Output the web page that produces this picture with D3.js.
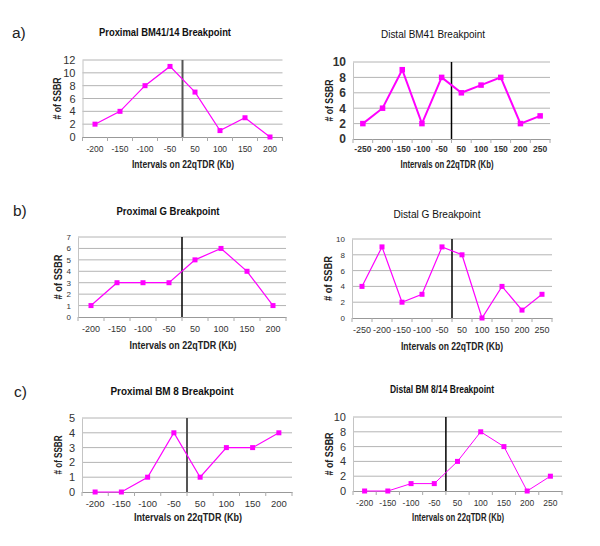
<!DOCTYPE html>
<html><head><meta charset="utf-8">
<script src="https://cdn.jsdelivr.net/npm/d3@7/dist/d3.min.js"></script>
<style>body{margin:0;background:#fff}svg{display:block;font-family:"Liberation Sans",Arial,sans-serif}</style>
</head><body><svg id="c" width="600" height="546"></svg>
<script>
// ---- data ----
const catsA1 = ["-200","-150","-100","-50","50","100","150","200"];
const valsA1 = [2,4,8,11,7,1,3,0];
const ticksA1 = [0,2,4,6,8,10,12];

const catsA2 = ["-250","-200","-150","-100","-50","50","100","150","200","250"];
const valsA2 = [2,4,9,2,8,6,7,8,2,3];
const ticksA2 = [0,2,4,6,8,10];

const catsB1 = ["-200","-150","-100","-50","50","100","150","200"];
const valsB1 = [1,3,3,3,5,6,4,1];
const ticksB1 = [0,1,2,3,4,5,6,7];

const catsB2 = ["-250","-200","-150","-100","-50","50","100","150","200","250"];
const valsB2 = [4,9,2,3,9,8,0,4,1,3];
const ticksB2 = [0,2,4,6,8,10];

const catsC1 = ["-200","-150","-100","-50","50","100","150","200"];
const valsC1 = [0,0,1,4,1,3,3,4];
const ticksC1 = [0,1,2,3,4,5];

const catsC2 = ["-200","-150","-100","-50","50","100","150","200","250"];
const valsC2 = [0,0,1,1,4,8,6,0,2];
const ticksC2 = [0,2,4,6,8,10];

const titles = ["Proximal BM41/14 Breakpoint","Distal BM41 Breakpoint","Proximal G Breakpoint","Distal G Breakpoint","Proximal BM 8 Breakpoint","Distal BM 8/14 Breakpoint"];
const xTitle = "Intervals on 22qTDR (Kb)";
const yTitle = "# of SSBR";
const letters = ["a)","b)","c)"];

// ---- layout / styles ----
const panels = [
 {cats:catsA1, vals:valsA1, ticks:ticksA1, title:titles[0], x:[82.5,282.5], y:[137,60],
  tx:165, ty:36, tW:"bold", tS:10.5, tL:132, yS:11, yW:"normal", xS:8.5, xW:"normal", xTy:152, xtx:183, xty:168, xtS:10, xtL:102, ylx:57, ylL:42, lw:1.2, ms:5, vc:"#555", vw:2},
 {cats:catsA2, vals:valsA2, ticks:ticksA2, title:titles[1], x:[353,550], y:[139,62],
  tx:433, ty:38, tW:"normal", tS:11, tL:104, yS:12, yW:"bold", xS:8.5, xW:"bold", xTy:152, xtx:447, xty:168, xtS:10.5, xtL:93, ylx:329, ylL:42, lw:2, ms:5.5, vc:"#000", vw:1.5},
 {cats:catsB1, vals:valsB1, ticks:ticksB1, title:titles[2], x:[78,286], y:[317,237],
  tx:168, ty:215, tW:"bold", tS:10, tL:103, yS:8, yW:"normal", xS:9, xW:"normal", xTy:332, xtx:183, xty:349, xtS:10, xtL:107, ylx:58, ylL:45, lw:1.2, ms:5, vc:"#000", vw:1.5},
 {cats:catsB2, vals:valsB2, ticks:ticksB2, title:titles[3], x:[352,552], y:[318,239],
  tx:437, ty:218, tW:"normal", tS:11, tL:87, yS:8, yW:"normal", xS:9, xW:"normal", xTy:333, xtx:452, xty:350, xtS:10.5, xtL:102, ylx:328, ylL:45, lw:1.2, ms:5, vc:"#000", vw:1.5},
 {cats:catsC1, vals:valsC1, ticks:ticksC1, title:titles[4], x:[82,292], y:[492,418],
  tx:172, ty:395, tW:"bold", tS:10.5, tL:123, yS:11, yW:"normal", xS:9.5, xW:"normal", xTy:507, xtx:188, xty:521, xtS:10.5, xtL:108, ylx:58, ylL:39, lw:1.2, ms:5, vc:"#555", vw:2},
 {cats:catsC2, vals:valsC2, ticks:ticksC2, title:titles[5], x:[353,562], y:[491,417],
  tx:442, ty:393, tW:"bold", tS:10, tL:104, yS:11, yW:"normal", xS:8.5, xW:"normal", xTy:506, xtx:458, xty:521, xtS:10, xtL:92, ylx:329, ylL:43, lw:1, ms:5, vc:"#000", vw:1.5}
];

const svg = d3.select("#c");
const letterPos = [[12,38],[13,216],[14,397]];
letters.forEach((l,i)=>svg.append("text").attr("x",letterPos[i][0]).attr("y",letterPos[i][1])
  .attr("font-size",15.5).attr("fill","#222").text(l));

panels.forEach(p=>{
  const g = svg.append("g");
  const x = d3.scaleBand().domain(p.cats).range(p.x);
  const y = d3.scaleLinear().domain([0, d3.max(p.ticks)]).range(p.y);
  // gridlines
  g.selectAll(".grid").data(p.ticks.slice(1)).join("line")
    .attr("x1",p.x[0]).attr("x2",p.x[1]).attr("y1",d=>y(d)).attr("y2",d=>y(d))
    .attr("stroke","#b4b4b4").attr("stroke-width",1);
  // y axis
  const ya = g.append("g").attr("transform",`translate(${p.x[0]},0)`)
    .call(d3.axisLeft(y).tickValues(p.ticks).tickSize(0).tickPadding(7).tickFormat(d3.format("d")));
  ya.select(".domain").attr("stroke","#c4c4c4");
  ya.selectAll("text").attr("font-size",p.yS).attr("font-weight",p.yW).attr("fill","#333")
    .attr("font-family","Liberation Sans, Arial, sans-serif");
  // x axis
  const xa = g.append("g").attr("transform",`translate(0,${p.y[0]})`)
    .call(d3.axisBottom(x).tickSize(0).tickPadding(0));
  xa.select(".domain").attr("stroke","#999");
  xa.selectAll("text").attr("font-size",p.xS).attr("font-weight",p.xW).attr("fill","#333")
    .attr("font-family","Liberation Sans, Arial, sans-serif")
    .attr("dy",null).attr("y",p.xTy - p.y[0]);
  // category boundary ticks
  const bounds = p.cats.map(c=>x(c)).concat([p.x[1]]);
  g.selectAll(".bt").data(bounds).join("line")
    .attr("x1",d=>d).attr("x2",d=>d).attr("y1",p.y[0]).attr("y2",p.y[0]+4)
    .attr("stroke","#aaa");
  // breakpoint vertical line (before first positive interval)
  const firstPos = p.cats.find(c=>+c>0);
  g.append("line").attr("x1",x(firstPos)).attr("x2",x(firstPos))
    .attr("y1",p.y[1]).attr("y2",p.y[0]).attr("stroke",p.vc).attr("stroke-width",p.vw);
  // line
  const cx = c=>x(c)+x.bandwidth()/2;
  g.append("path").datum(p.vals).attr("fill","none").attr("stroke","#ff00ff").attr("stroke-width",p.lw)
    .attr("d", d3.line().x((d,i)=>cx(p.cats[i])).y(d=>y(d)));
  g.selectAll(".m").data(p.vals).join("rect")
    .attr("x",(d,i)=>cx(p.cats[i])-p.ms/2).attr("y",d=>y(d)-p.ms/2)
    .attr("width",p.ms).attr("height",p.ms).attr("fill","#ff00ff");
  // titles
  g.append("text").attr("x",p.tx).attr("y",p.ty).attr("text-anchor","middle")
    .attr("font-size",p.tS).attr("font-weight",p.tW).attr("fill","#111")
    .attr("textLength",p.tL).attr("lengthAdjust","spacingAndGlyphs").text(p.title);
  g.append("text").attr("x",p.xtx).attr("y",p.xty).attr("text-anchor","middle")
    .attr("font-size",p.xtS).attr("font-weight","bold").attr("fill","#222")
    .attr("textLength",p.xtL).attr("lengthAdjust","spacingAndGlyphs").text(xTitle);
  const ym = (p.y[0]+p.y[1])/2;
  g.append("text").attr("transform",`translate(${p.ylx},${ym}) rotate(-90)`).attr("text-anchor","middle")
    .attr("dy","0.35em").attr("font-size",10).attr("font-weight","bold").attr("fill","#222")
    .attr("textLength",p.ylL).attr("lengthAdjust","spacingAndGlyphs").text(yTitle);
});
</script></body></html>
